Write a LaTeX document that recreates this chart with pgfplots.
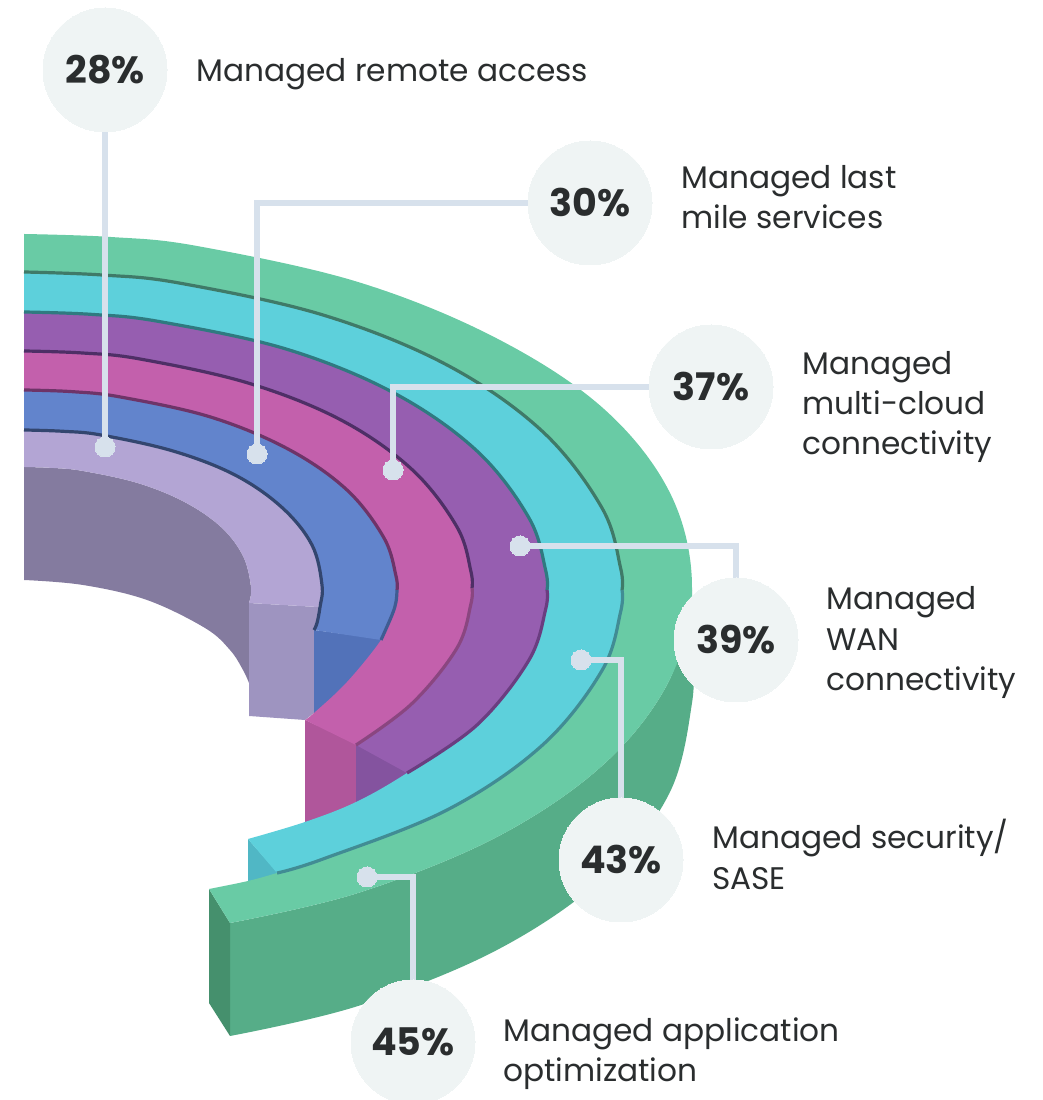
\documentclass[border=0pt]{standalone}
\usepackage{fontspec}
\setmainfont{Poppins}
\usepackage{pgfplots}
\usepackage{pgfplotstable}
\pgfplotsset{compat=1.18}
\usepgfplotslibrary{fillbetween}
\definecolor{cG}{HTML}{69CBA5}
\definecolor{cGw}{HTML}{56AD88}
\definecolor{cGe}{HTML}{45906D}
\definecolor{cC}{HTML}{5DD0DB}
\definecolor{cCe}{HTML}{50B7C5}
\definecolor{cP}{HTML}{965EB0}
\definecolor{cPw}{HTML}{84539F}
\definecolor{cK}{HTML}{C360AC}
\definecolor{cKw}{HTML}{B0569B}
\definecolor{cB}{HTML}{6284CC}
\definecolor{cBw}{HTML}{5272B9}
\definecolor{cL}{HTML}{B3A5D4}
\definecolor{cLw}{HTML}{9E94C0}
\definecolor{cY}{HTML}{847B9F}
\definecolor{cBub}{HTML}{EFF4F4}
\definecolor{cLead}{HTML}{D7E1EC}
\definecolor{cTxt}{HTML}{2A2D2E}
\definecolor{HTMLa}{HTML}{3F7A68}
\definecolor{HTMLb}{HTML}{418C94}
\definecolor{HTMLc}{HTML}{2F7A80}
\definecolor{HTMLd}{HTML}{6A3D80}
\definecolor{HTMLe}{HTML}{4E2F66}
\definecolor{HTMLf}{HTML}{8A4680}
\definecolor{HTMLg}{HTML}{6E3468}
\definecolor{HTMLh}{HTML}{3F5C92}
\definecolor{HTMLi}{HTML}{33466F}
\pgfplotstableread[row sep=\\]{x y\\24 234\\111 237\\197 246\\358 282\\496 338\\604 409\\671 495\\692 590\\669 681\\603 765\\496 837.5\\358 893\\230 923\\}\Tgo
\pgfplotstableread[row sep=\\]{x y\\230 923\\358 893\\496 837.5\\603 765\\669 681\\692 590\\}\Twu
\pgfplotstableread[row sep=\\]{x y\\230 1036\\358 1006\\496 950.5\\603 878\\669 794\\692 703\\692 650\\692 590\\}\Twl
\pgfplotstableread[row sep=\\]{x y\\24 272\\102 275\\179 283\\323 315\\447 365\\542 431\\602 508\\622 590\\602 670.5\\542 745.5\\447 810\\323 859\\277 873\\248 881\\209 889\\}\Tgi
\pgfplotstableread[row sep=\\]{x y\\24 272\\102 275\\179 283\\323 315\\447 365\\542 431\\602 508\\622 590\\602 670.5\\542 745.5\\447 810\\323 859\\277 873\\}\Tco
\pgfplotstableread[row sep=\\]{x y\\24 272\\102 275\\179 283\\323 315\\447 365\\542 431\\602 508\\620.6 568\\622 590\\}\TsA
\pgfplotstableread[row sep=\\]{x y\\622 590\\620.6 612\\602 670.5\\542 745.5\\447 810\\323 859\\277 873\\}\TsB
\pgfplotstableread[row sep=\\]{x y\\24 312\\92 314.4\\159 321.5\\286 349\\394 393\\477 451\\529 518\\547 590\\529 660\\477 725\\407 773\\356 802\\305 822\\248 839\\}\Tci
\pgfplotstableread[row sep=\\]{x y\\24 312\\92 314.4\\159 321.5\\286 349\\394 393\\477 451\\529 518\\547 590\\529 660\\477 725\\407 773\\}\Tpo
\pgfplotstableread[row sep=\\]{x y\\24 312\\92 314.4\\159 321.5\\286 349\\394 393\\477 451\\529 518\\545.7 570.5\\547 590\\}\TsC
\pgfplotstableread[row sep=\\]{x y\\547 590\\545.7 609\\529 660\\477 725\\407 773\\}\TsD
\pgfplotstableread[row sep=\\]{x y\\24 351\\82.5 353\\140 359\\248 383\\341 420\\412 469.5\\457 527\\472 588\\457 648\\412 703.5\\356 745\\}\Tko
\pgfplotstableread[row sep=\\]{x y\\24 351\\82.5 353\\140 359\\248 383\\341 420\\412 469.5\\457 527\\470.9 571.4\\472 588\\}\TsE
\pgfplotstableread[row sep=\\]{x y\\472 588\\470.9 604\\457 648\\412 703.5\\356 745\\}\TsF
\pgfplotstableread[row sep=\\]{x y\\24 390\\72.7 391.7\\120.5 397\\210.5 417\\288 449\\347 490\\384 538\\397 590\\392 615\\381 640\\347 682\\314 713\\305 720\\}\Tki
\pgfplotstableread[row sep=\\]{x y\\24 390\\72.7 391.7\\120.5 397\\210.5 417\\288 449\\347 490\\384 538\\397 590\\392 615\\381 640\\}\Tbo
\pgfplotstableread[row sep=\\]{x y\\24 390\\72.7 391.7\\120.5 397\\210.5 417\\288 449\\347 490\\384 538\\396 576\\397 590\\}\TsG
\pgfplotstableread[row sep=\\]{x y\\397 590\\396 602\\392 615\\381 640\\}\TsH
\pgfplotstableread[row sep=\\]{x y\\24 430\\63 431.3\\101 435\\173 451\\235 475\\282 507.5\\312 545\\322 585\\320 607\\317 623\\314 630\\}\Tlo
\pgfplotstableread[row sep=\\]{x y\\24 430\\63 431.3\\101 435\\173 451\\235 475\\282 507.5\\312 545\\322 585\\318 607\\}\Tlp
\pgfplotstableread[row sep=\\]{x y\\24 467\\53.6 468\\83 471\\137.5 483\\184.5 502\\221 527\\243 556\\251 587\\249 603\\}\Tli
\pgfplotstableread[row sep=\\]{x y\\24 580\\83 585\\147 600\\205 628\\230 650\\243 670\\249 683\\}\Tgb
\pgfplotsset{
  rimpath/.style={draw=none,smooth,tension=0.6,forget plot},
  stripe/.style={smooth,tension=0.6,line width=3.2pt,forget plot,line cap=butt},
  lead/.style={cLead,line width=5.5pt,forget plot,line join=miter},
}
\begin{document}
\begin{tikzpicture}
\begin{axis}[
  at={(0,0)},anchor=south west,
  width=1043pt,height=1100pt,scale only axis,
  xmin=0,xmax=1043,ymin=0,ymax=1100,y dir=reverse,
  hide axis,
  clip marker paths=true,
  /tikz/fill between/on layer=main,
]
% ---- named edges
\addplot[rimpath,name path=go] table {\Tgo};
\addplot[rimpath,name path=wu] table {\Twu};
\addplot[rimpath,name path=wl] table {\Twl};
\addplot[rimpath,name path=gi] table {\Tgi};
\addplot[rimpath,name path=co] table {\Tco};
\addplot[rimpath,name path=ci] table {\Tci};
\addplot[rimpath,name path=po] table {\Tpo};
\addplot[rimpath,name path=pi] table {\Tko};
\addplot[rimpath,name path=ko] table {\Tko};
\addplot[rimpath,name path=ki] table {\Tki};
\addplot[rimpath,name path=bo] table {\Tbo};
\addplot[rimpath,name path=bi] table {\Tlo};
\addplot[rimpath,name path=lo] table {\Tlp};
\addplot[rimpath,name path=li] table {\Tli};
\addplot[rimpath,name path=gb] table {\Tgb};
% ---- walls
\addplot[fill=cY,draw=none] fill between[of=li and gb];
\addplot[fill=cLw,draw=none] coordinates {(249,603)(318,607)(320,607)(317,623)(314,630)(314,713)(305,720)(249,716)} --cycle;
\addplot[fill=cBw,draw=none] coordinates {(314,630)(381,639)(381,680)(314,722)} --cycle;
\addplot[fill=cKw,draw=none] coordinates {(305,720)(356,743)(356,815)(305,835)} --cycle;
\addplot[fill=cPw,draw=none] coordinates {(356,742)(407,771)(407,790)(356,815)} --cycle;
\addplot[fill=cCe,draw=none] coordinates {(248,839)(277,872)(277,895)(248,900)} --cycle;
\addplot[fill=cGw,draw=none] fill between[of=wu and wl];
\addplot[fill=cGe,draw=none] coordinates {(209,889)(230,923)(230,1036)(209,1003)} --cycle;
% ---- rings
\addplot[fill=cL,draw=none] fill between[of=lo and li];
\addplot[fill=cB,draw=none] fill between[of=bo and bi];
\addplot[fill=cK,draw=none] fill between[of=ko and ki];
\addplot[fill=cP,draw=none] fill between[of=po and pi];
\addplot[fill=cC,draw=none] fill between[of=co and ci];
\addplot[fill=cG,draw=none] fill between[of=go and gi];
% ---- dark strips along the ring edges
\addplot[stripe,color=HTMLa] table {\TsA};
\addplot[stripe,color=HTMLb] table {\TsB};
\addplot[stripe,color=HTMLc] table {\TsC};
\addplot[stripe,color=HTMLd] table {\TsD};
\addplot[stripe,color=HTMLe] table {\TsE};
\addplot[stripe,color=HTMLf] table {\TsF};
\addplot[stripe,color=HTMLg] table {\TsG};
\addplot[stripe,color=HTMLh] table {\TsH};
\addplot[stripe,color=HTMLi] table {\Tlo};
% ---- leaders
\addplot[lead] coordinates {(105,70)(105,447)};
\addplot[lead] coordinates {(590,203)(257,203)(257,454)};
\addplot[lead] coordinates {(711,387)(393,387)(393,470)};
\addplot[lead] coordinates {(520,546)(736,546)(736,640)};
\addplot[lead] coordinates {(581,660)(621,660)(621,860)};
\addplot[lead] coordinates {(367,877)(413,877)(413,1042)};
\addplot[only marks,mark=*,mark size=10pt,mark options={fill=cLead,draw=cLead,line width=0pt},forget plot] coordinates {(105,447)(257,454)(393,470)(520,546)(581,660)(367,877)};
\addplot[only marks,mark=*,mark size=62pt,mark options={fill=cBub,draw=cBub,line width=0pt},forget plot] coordinates {(105,70)(590,203)(711,387)(736,640)(621,860)(413,1042)};
% ---- text
\begin{scope}[every node/.style={text=cTxt,font=\fontsize{31.2}{36}\selectfont,inner sep=0pt}]
\node[font=\fontsize{38}{40}\selectfont\bfseries] at (axis cs:105,70) {28\%};
\node[font=\fontsize{38}{40}\selectfont\bfseries] at (axis cs:590,203) {30\%};
\node[font=\fontsize{38}{40}\selectfont\bfseries] at (axis cs:711,387) {37\%};
\node[font=\fontsize{38}{40}\selectfont\bfseries] at (axis cs:736,640) {39\%};
\node[font=\fontsize{38}{40}\selectfont\bfseries] at (axis cs:621,860) {43\%};
\node[font=\fontsize{38}{40}\selectfont\bfseries] at (axis cs:413,1042) {45\%};
\node[anchor=base west] at (axis cs:196,82) {Managed remote access};
\node[anchor=base west] at (axis cs:681,189) {Managed last};
\node[anchor=base west] at (axis cs:681,229) {mile services};
\node[anchor=base west] at (axis cs:802,375) {Managed};
\node[anchor=base west] at (axis cs:802,415) {multi-cloud};
\node[anchor=base west] at (axis cs:802,455) {connectivity};
\node[anchor=base west] at (axis cs:826,610) {Managed};
\node[anchor=base west] at (axis cs:826,651) {WAN};
\node[anchor=base west] at (axis cs:826,691) {connectivity};
\node[anchor=base west] at (axis cs:712,849) {Managed security/};
\node[anchor=base west] at (axis cs:712,890) {SASE};
\node[anchor=base west] at (axis cs:503,1042) {Managed application};
\node[anchor=base west] at (axis cs:503,1082) {optimization};
\end{scope}
\end{axis}
\pgfresetboundingbox
\useasboundingbox (0,0) rectangle (1043pt,1100pt);
\end{tikzpicture}
\end{document}
